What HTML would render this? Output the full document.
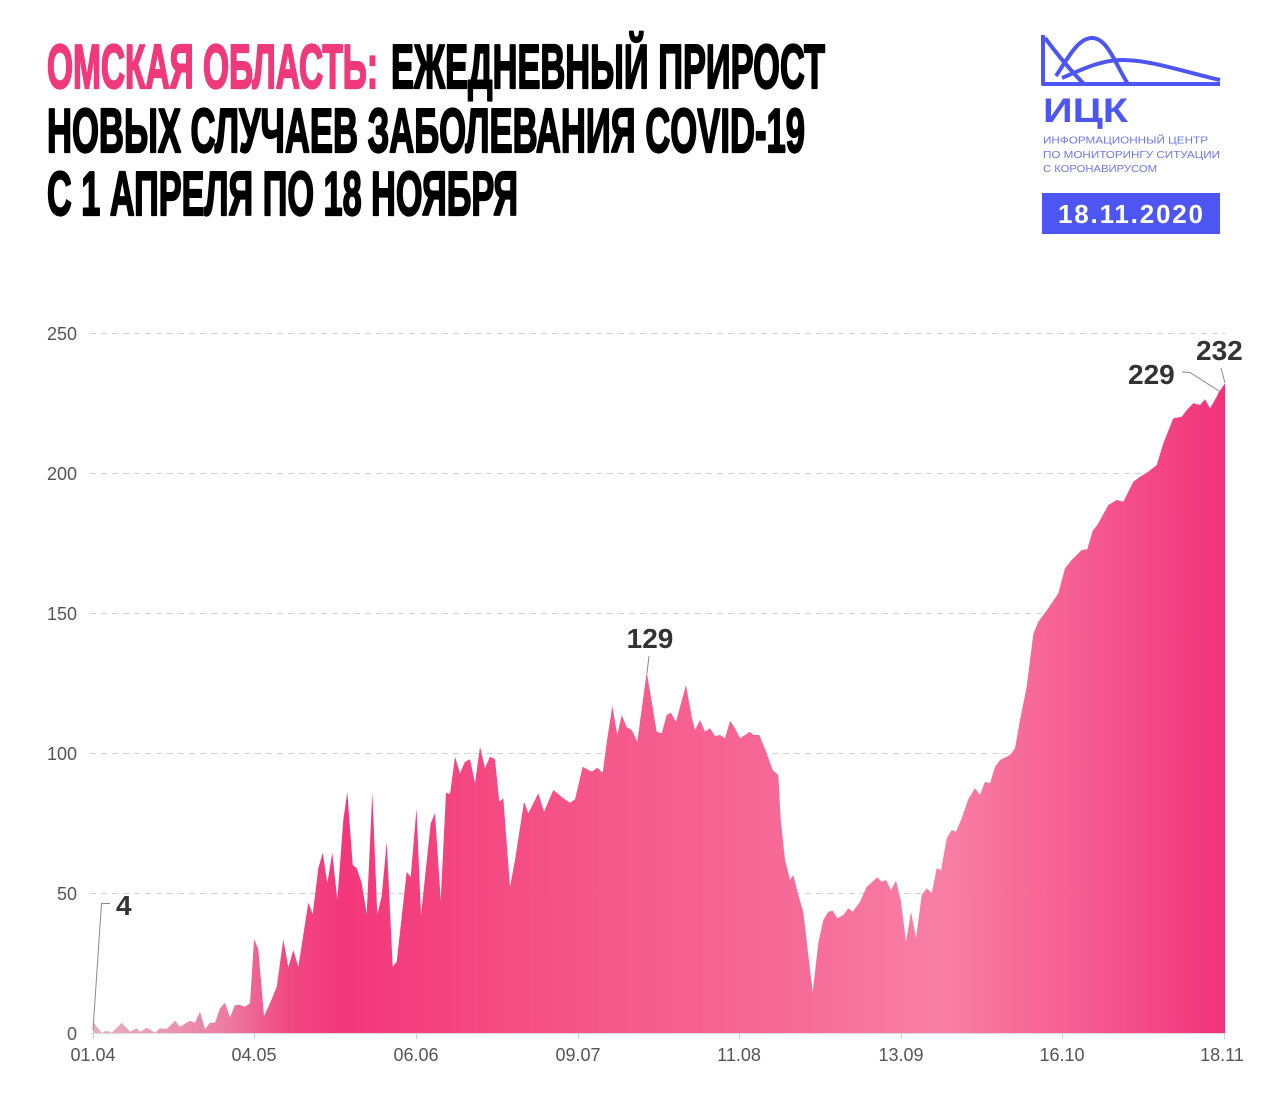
<!DOCTYPE html>
<html lang="ru">
<head>
<meta charset="utf-8">
<style>
  html,body{margin:0;padding:0;background:#fff;}
  svg{display:block;}
  text{font-family:"Liberation Sans","Noto Sans CJK SC",sans-serif;}
  .ttl{font-family:"Liberation Sans Narrow","Liberation Sans",sans-serif;font-weight:bold;font-size:62px;stroke-width:2.2;stroke-linejoin:round;}
  .yl{font-size:18px;fill:#555;}
  .xl{font-size:18px;fill:#555;}
  .ann{font-size:28px;font-weight:bold;fill:#333;}
</style>
</head>
<body>
<svg width="1280" height="1095" viewBox="0 0 1280 1095" xmlns="http://www.w3.org/2000/svg">
  <defs>
    <linearGradient id="g" x1="93" y1="0" x2="1225" y2="0" gradientUnits="userSpaceOnUse">
      <stop offset="0" stop-color="#e8b0c0"/>
      <stop offset="0.06" stop-color="#ea9ab4"/>
      <stop offset="0.12" stop-color="#ec7aa0"/>
      <stop offset="0.17" stop-color="#f04a82"/>
      <stop offset="0.22" stop-color="#f3377a"/>
      <stop offset="0.3" stop-color="#f4427e"/>
      <stop offset="0.45" stop-color="#f5588b"/>
      <stop offset="0.6" stop-color="#f66896"/>
      <stop offset="0.75" stop-color="#f87fa5"/>
      <stop offset="0.88" stop-color="#f55a8f"/>
      <stop offset="1" stop-color="#f2327a"/>
    </linearGradient>
  </defs>

  <!-- Title -->
  <text class="ttl" x="47" y="88" fill="#f0397b" stroke="#f0397b" textLength="331" lengthAdjust="spacingAndGlyphs">ОМСКАЯ ОБЛАСТЬ:</text>
  <text class="ttl" x="391" y="88" fill="#000" stroke="#000" textLength="434" lengthAdjust="spacingAndGlyphs">ЕЖЕДНЕВНЫЙ ПРИРОСТ</text>
  <text class="ttl" x="47" y="152" fill="#000" stroke="#000" textLength="758" lengthAdjust="spacingAndGlyphs">НОВЫХ СЛУЧАЕВ ЗАБОЛЕВАНИЯ COVID-19</text>
  <text class="ttl" x="47" y="215" fill="#000" stroke="#000" textLength="471" lengthAdjust="spacingAndGlyphs">С 1 АПРЕЛЯ ПО 18 НОЯБРЯ</text>

  <!-- Logo -->
  <g fill="none" stroke="#4d56f3" stroke-width="4" stroke-linejoin="round" stroke-linecap="butt">
    <path d="M1043,35 L1043,84 L1220,84"/>
    <path d="M1045,38 C1060,58 1072,72 1084,84"/>
    <path d="M1056,76 C1068,58 1078,38 1092,38 C1108,38 1116,66 1128,84"/>
    <path d="M1062,78 C1085,68 1102,60 1122,60 C1152,60 1184,72 1220,80"/>
  </g>
  <text x="1043" y="122" font-size="34" font-weight="bold" fill="#4d56f3" textLength="85" lengthAdjust="spacingAndGlyphs">ИЦК</text>
  <text x="1043" y="143.5" font-size="10.5" fill="#6f76f2" textLength="165" lengthAdjust="spacingAndGlyphs">ИНФОРМАЦИОННЫЙ ЦЕНТР</text>
  <text x="1043" y="158" font-size="10.5" fill="#6f76f2" textLength="177" lengthAdjust="spacingAndGlyphs">ПО МОНИТОРИНГУ СИТУАЦИИ</text>
  <text x="1043" y="172" font-size="10.5" fill="#6f76f2" textLength="114" lengthAdjust="spacingAndGlyphs">С КОРОНАВИРУСОМ</text>
  <rect x="1042" y="193" width="178" height="41" fill="#4d56f3"/>
  <text x="1058" y="223" font-size="26" font-weight="bold" fill="#fff" textLength="145" lengthAdjust="spacing">18.11.2020</text>

  <!-- Grid -->
  <g stroke="#d2d2d2" stroke-width="1" stroke-dasharray="6 5">
    <line x1="90" y1="333.5" x2="1225" y2="333.5"/>
    <line x1="90" y1="473.5" x2="1225" y2="473.5"/>
    <line x1="90" y1="613.5" x2="1225" y2="613.5"/>
    <line x1="90" y1="753.5" x2="1225" y2="753.5"/>
    <line x1="90" y1="893.5" x2="1225" y2="893.5"/>
  </g>
  <g class="yl" text-anchor="end">
    <text x="77" y="340">250</text>
    <text x="77" y="480">200</text>
    <text x="77" y="620">150</text>
    <text x="77" y="760">100</text>
    <text x="77" y="900">50</text>
    <text x="77" y="1040">0</text>
  </g>

  <!-- Area -->
  <path fill="url(#g)" d="M93,1033 L93,1021.8 L101.7,1032.7 L106.7,1030.7 L111.7,1032.7 L121.7,1022.7 L130,1031.7 L136.7,1028.3 L140,1031.7 L146.7,1027.7 L155,1032.7 L160,1028.3 L166.7,1029 L175,1020.7 L180,1026.7 L190,1020.7 L195,1022.7 L200,1011.7 L205,1029.3 L210,1022.7 L215,1022.7 L220,1008.3 L225,1002.7 L230,1017.3 L235,1005 L240,1005 L245,1006.7 L250,1003.3 L254,939 L258.3,949.3 L264,1016 L270,1003.3 L276.7,986.7 L283.3,939.3 L288.3,967.3 L293.3,950 L298.3,966.7 L308.3,902.7 L312.7,914 L318.3,868.3 L322.7,852.7 L327.3,883.3 L332.3,852.7 L337.3,900 L343.3,820 L347.3,791.7 L352.7,865 L356.7,868.3 L361.7,883.3 L366.7,914 L372.3,792.3 L377.3,915 L381.7,896 L386.7,841.7 L392.7,966.7 L396.7,961.7 L406.7,871.7 L410.7,877 L416.5,808.5 L421,915 L430.7,823.3 L435,813.3 L440.7,900 L446,792.7 L450,794 L455,756.7 L460,773.3 L465,761.7 L470,759.3 L475,783.3 L480,746.7 L485,768.3 L490,756.7 L495,759.3 L499.3,801.7 L503.3,798.3 L510,886.7 L515,860 L524,801.7 L528.3,813.3 L538.3,793.3 L544,811.7 L553.3,790 L563.3,798.3 L570,802.7 L575,799.3 L582.7,766.7 L591.7,771.7 L597.3,767.7 L602.7,772.7 L607.3,738.3 L612.3,706 L617.3,735 L621.7,715 L626.7,727.3 L631.7,730 L637.3,741.7 L646.7,672 L651.7,701.7 L656.7,731.7 L661.7,733.3 L666.7,715 L670.7,712.7 L676,721.7 L686,685 L691.7,716.7 L695,730 L700,720 L705,731.7 L710,728.3 L715,736 L720,735 L725,738.3 L730,720.7 L735,728.3 L740,738.3 L750,731.7 L753.3,735 L759.3,735 L766.7,753.3 L772.7,770 L778.3,775 L780.7,820 L785,860 L790,880 L793.3,875 L798.3,895 L803.3,912 L808.3,955 L812.7,992 L818.3,943 L823.3,920 L828.3,911.7 L832.7,910.7 L837.3,918.3 L843.3,915 L848.3,908.3 L852.7,911.7 L860,901.7 L866.7,886.7 L877.3,877.3 L881.7,881.7 L886,880 L891,890 L896,880.7 L900.7,900 L906,941.7 L911,911.7 L916,938.3 L921.7,895 L926.7,888.3 L931.7,893.3 L936.7,868.3 L941,870 L946.7,838.3 L951.7,830 L956,831.7 L961.7,818.3 L968.3,799.3 L975,788.3 L980,795 L985,781.7 L990,783.3 L995,766.7 L1000,760 L1010,755 L1015,748.3 L1020,720 L1026.7,686.7 L1033.3,634 L1038.3,621.7 L1046.7,610.5 L1058.3,593.3 L1065,568.3 L1071.7,560 L1081.7,550 L1087.3,549.3 L1092.7,530.7 L1097.3,525 L1108.3,505 L1116.7,500 L1123.3,501.7 L1133.3,481.7 L1140,476.7 L1148.3,471.7 L1156.7,465 L1163.3,443.3 L1173.3,418.3 L1181.7,416.7 L1186.7,410 L1193.3,403.3 L1200,405 L1205,399.3 L1210,408.3 L1216.7,396.7 L1219,391.8 L1225,383.4 L1225,1033 Z"/>

  <!-- X axis -->
  <line x1="90" y1="1033.5" x2="1226" y2="1033.5" stroke="#dcdcdc" stroke-width="1"/>
  <g stroke="#cfcfcf" stroke-width="1">
    <line x1="93.5" y1="1033" x2="93.5" y2="1039"/>
    <line x1="254.5" y1="1033" x2="254.5" y2="1039"/>
    <line x1="416.5" y1="1033" x2="416.5" y2="1039"/>
    <line x1="578.5" y1="1033" x2="578.5" y2="1039"/>
    <line x1="739.5" y1="1033" x2="739.5" y2="1039"/>
    <line x1="901.5" y1="1033" x2="901.5" y2="1039"/>
    <line x1="1062.5" y1="1033" x2="1062.5" y2="1039"/>
    <line x1="1224.5" y1="1033" x2="1224.5" y2="1039"/>
  </g>
  <g class="xl" text-anchor="middle">
    <text x="93" y="1061">01.04</text>
    <text x="254" y="1061">04.05</text>
    <text x="416" y="1061">06.06</text>
    <text x="578" y="1061">09.07</text>
    <text x="739" y="1061">11.08</text>
    <text x="901" y="1061">13.09</text>
    <text x="1062" y="1061">16.10</text>
    <text x="1222" y="1061">18.11</text>
  </g>

  <!-- Annotations -->
  <g fill="none" stroke="#8a8a8a" stroke-width="1">
    <path d="M93,1030 L101.5,903.5 L110,903.5"/>
    <path d="M647,673 L649,656"/>
    <path d="M1182,372 L1190,372.5 L1219,391"/>
    <path d="M1221,368 L1225,383"/>
  </g>
  <text class="ann" x="116" y="915">4</text>
  <text class="ann" x="650" y="648" text-anchor="middle">129</text>
  <text class="ann" x="1128" y="384">229</text>
  <text class="ann" x="1196" y="360">232</text>
</svg>
</body>
</html>
